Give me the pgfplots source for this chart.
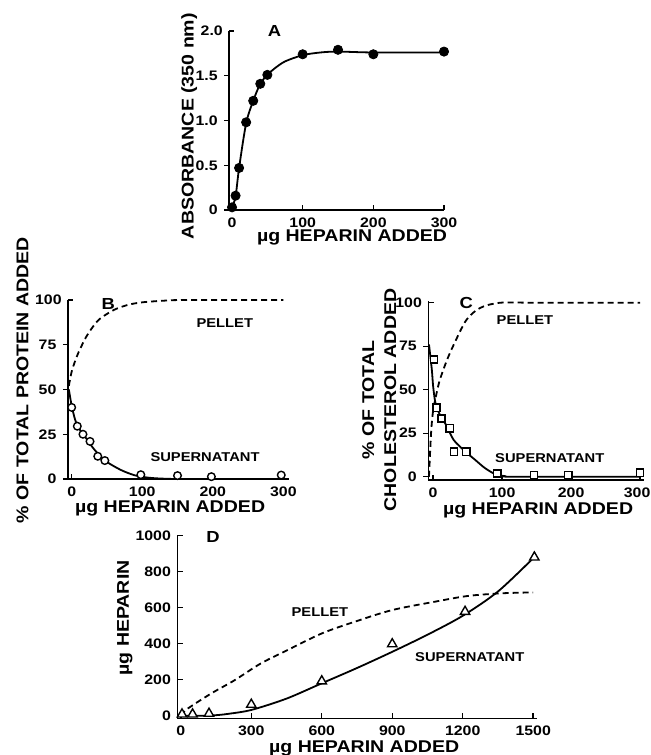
\documentclass[border=0pt]{standalone}
\usepackage{pgfplots}
\pgfplotsset{compat=1.18}
\usepackage{fontspec}
\newfontfamily\hv[FakeStretch=1.15]{Liberation Sans}
\newcommand{\labf}{\hv\bfseries\fontsize{8.5}{11}\selectfont}
\newcommand{\tickf}{\hv\bfseries\fontsize{6.9}{8}\selectfont}
\newcommand{\annf}{\hv\bfseries\fontsize{6.4}{8}\selectfont}
\newcommand{\letf}{\hv\bfseries\fontsize{8}{9}\selectfont}
\pgfplotsset{
  panel/.style={
    scale only axis, anchor=south west, clip=false,
    axis lines*=left, axis line style={-, line width=0.8pt},
    tick style={black, line width=0.7pt},
    major tick length=2.6pt,
    x tick label style={font=\tickf, inner sep=1pt, yshift=-2.5pt},
    y tick label style={font=\tickf, inner sep=1pt, xshift=-2pt},
    label style={font=\labf, inner sep=0.5pt},
    xtick align=inside,
    ytick align=outside,
    extra y tick style={ytick align=inside},
  },
  fitline/.style={black, line width=0.9pt, no marks, smooth, tension=0.5},
  dashline/.style={black, line width=0.9pt, no marks, smooth, tension=0.5, dash pattern=on 3pt off 2pt},
}
\begin{document}
\begin{tikzpicture}
\useasboundingbox (0,0) rectangle (325pt,-377.5pt);

% ---------------- Panel A ----------------
\begin{axis}[panel, at={(114.6pt,-105pt)}, width=107.4pt, height=89.5pt,
  xmin=-4, xmax=300, ymin=0, ymax=2,
  xtick={0,100,200,300}, xticklabels={0,100,200,300},
  ytick={0,0.5,1,1.5}, yticklabels={0,0.5,1.0,1.5},
  extra y ticks={2}, extra y tick labels={2.0},
  xlabel={µg HEPARIN ADDED}, ylabel={ABSORBANCE (350 nm)},
  xlabel style={at={(axis description cs:0.572,-0.153)}, anchor=center},
  ylabel style={at={(axis description cs:-0.186,0.469)}, anchor=center},
]
\addplot[fitline] coordinates {(0,0.03) (5,0.15) (10,0.47) (20,0.97) (30,1.22) (40,1.41) (50,1.51) (60,1.58) (75,1.66) (100,1.73) (125,1.76) (150,1.77) (200,1.76) (300,1.76)};
\addplot[only marks, mark=*, mark size=2.3pt, mark options={fill=black, draw=black}] coordinates {(0,0.03) (5,0.16) (10,0.47) (20,0.98) (30,1.22) (40,1.41) (50,1.51) (100,1.74) (150,1.79) (200,1.74) (300,1.77)};
\node[font=\letf] at (axis cs:60,2.0) {A};
\end{axis}

% ---------------- Panel B ----------------
\begin{axis}[panel, at={(34pt,-239.5pt)}, width=110.5pt, height=89.5pt,
  xmin=-5.2, xmax=308, ymin=0, ymax=100,
  xtick={0,100,200,300}, xticklabels={0,100,200,300},
  ytick={0,25,50,75}, yticklabels={0,25,50,75},
  extra y ticks={100}, extra y tick labels={100},
  xlabel={µg HEPARIN ADDED}, ylabel={\% OF TOTAL PROTEIN ADDED},
  xlabel style={at={(axis description cs:0.462,-0.166)}, anchor=center},
  ylabel style={at={(axis description cs:-0.206,0.553)}, anchor=center},
]
\addplot[dashline] coordinates {(-4,52) (0,60) (5,66) (10,71) (20,79) (30,85) (40,89.5) (60,94.5) (80,97.3) (100,98.7) (130,99.6) (160,100) (300,100)};
\addplot[fitline] coordinates {(-4,50) (0,41) (5,33) (10,28.5) (20,23) (30,17.5) (40,13) (50,9.5) (70,5) (90,2) (110,0.7) (130,0.2) (160,0) (300,0)};
\addplot[only marks, mark=*, mark size=1.9pt, mark options={fill=white, draw=black, line width=0.7pt}] coordinates {(0,40) (8,29.5) (16,25) (26,21) (37,12.7) (47,10.3) (98,2.4) (150,1.9) (198,1.3) (297,2.2)};
\node[font=\letf] at (axis cs:52,98) {B};
\node[font=\annf] at (axis cs:217,87) {PELLET};
\node[font=\annf] at (axis cs:189,12) {SUPERNATANT};
\end{axis}

% ---------------- Panel C ----------------
\begin{axis}[panel, at={(214.15pt,-240.1pt)}, width=107.65pt, height=89.6pt,
  xmin=-7, xmax=305, ymin=-2, ymax=101,
  xtick={0,100,200,300}, xticklabels={0,100,200,\kern-3pt 300},
  ytick={0,25,50,75}, yticklabels={0,25,50,75},
  extra y ticks={100}, extra y tick labels={100},
  xlabel={µg HEPARIN ADDED}, ylabel={\% OF TOTAL\\CHOLESTEROL ADDED},
  xlabel style={at={(axis description cs:0.51,-0.17)}, anchor=center},
  ylabel style={at={(axis description cs:-0.228,0.448)}, anchor=center, align=center},
]
\addplot[dashline] coordinates {(-6,0) (-3,25) (0,38) (5,48) (10,56) (20,67) (30,76) (48,90) (68,97) (97,100) (150,100) (300,100)};
\addplot[fitline] coordinates {(-6,76) (-2,62) (0,52) (3,43) (7,38) (12,34) (20,29) (30,21) (48,14) (60,10) (75,5) (90,1.5) (105,0.3) (120,0) (300,0)};
\addplot[only marks, mark=square*, mark size=1.8pt, mark options={fill=white, draw=black, line width=0.7pt}] coordinates {(1,67.4) (5,39.7) (12,33.5) (24,27.8) (30,14.4) (48,14.4) (93,1.9) (146,1) (196,1) (300,2.3)};
\node[font=\letf] at (axis cs:48,99.7) {C};
\node[font=\annf] at (axis cs:133,90) {PELLET};
\node[font=\annf] at (axis cs:169,10.6) {SUPERNATANT};
\end{axis}

% ---------------- Panel D ----------------
\begin{axis}[panel, at={(88.65pt,-359.2pt)}, width=179.7pt, height=91.35pt,
  xmin=-15, xmax=1515, ymin=-15, ymax=1000,
  ytick align=inside,
  xtick={0,300,600,900,1200,1500}, xticklabels={0,300,600,900,1200,1500},
  ytick={0,200,400,600,800,1000}, yticklabels={0,200,400,600,800,1000},
  xlabel={µg HEPARIN ADDED}, ylabel={µg HEPARIN},
  xlabel style={at={(axis description cs:0.52,-0.165)}, anchor=center},
  ylabel style={at={(axis description cs:-0.146,0.55)}, anchor=center},
]
\addplot[dashline] coordinates {(0,0) (30,40) (130,124) (230,198) (340,290) (455,365) (600,457) (740,522) (900,587) (1080,633) (1220,665) (1365,680) (1500,685)};
\addplot[fitline] coordinates {(0,0) (100,0) (150,3) (200,10) (300,32) (450,95) (600,180) (750,265) (900,355) (1050,450) (1200,555) (1350,690) (1500,875)};
\addplot[only marks, mark=triangle*, mark size=2.7pt, mark options={fill=white, draw=black, line width=0.7pt}] coordinates {(5,8) (50,8) (120,12) (300,62) (600,192) (900,398) (1210,578) (1505,880)};
\node[font=\letf] at (axis cs:137,995) {D};
\node[font=\annf] at (axis cs:592,578) {PELLET};
\node[font=\annf] at (axis cs:1230,328) {SUPERNATANT};
\end{axis}
\end{tikzpicture}
\end{document}
